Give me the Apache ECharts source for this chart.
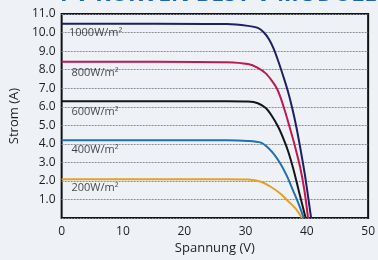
<!DOCTYPE html>
<html><head><meta charset="utf-8">
<script src="https://cdn.jsdelivr.net/npm/echarts@6/dist/echarts.min.js"></script>
<style>html,body{margin:0;padding:0;background:#eef2f6;}#c{width:378px;height:260px;}</style>
</head><body><div id="c"></div>
<script>
const seriesNames = ['1000W/m²','800W/m²','600W/m²','400W/m²','200W/m²'];
const v1000 = [0, 15, 27, 30.4, 32.0, 33.0, 33.8, 34.6, 35.4, 36.2, 36.9, 37.6, 38.3, 39.0, 39.7, 40.7];
const i1000 = [10.48, 10.48, 10.46, 10.36, 10.25, 10.0, 9.65, 9.12, 8.4, 7.6, 6.85, 5.95, 4.9, 3.65, 2.3, 0];
const v800 = [0, 15, 27, 30.4, 32.0, 33.3, 34.3, 35.0, 35.6, 36.4, 37.2, 38.0, 38.9, 39.6, 40.2];
const i800 = [8.43, 8.43, 8.4, 8.3, 8.1, 7.8, 7.4, 7.05, 6.6, 5.8, 4.9, 3.95, 2.75, 1.5, 0];
const v600 = [0, 15, 27, 30.4, 32.0, 33.3, 34.3, 35.4, 36.4, 37.0, 37.8, 38.7, 39.8];
const i600 = [6.3, 6.3, 6.3, 6.28, 6.19, 5.93, 5.5, 4.87, 4.1, 3.55, 2.65, 1.45, 0];
const v400 = [0, 15, 27, 30.4, 32.5, 33.5, 34.5, 35.6, 36.7, 37.8, 38.8, 39.5];
const i400 = [4.2, 4.2, 4.2, 4.16, 4.07, 3.85, 3.5, 2.98, 2.3, 1.45, 0.65, 0];
const v200 = [0, 15, 27, 30.4, 32.5, 34.1, 35.6, 37.0, 38.3, 39.2];
const i200 = [2.1, 2.1, 2.1, 2.08, 1.96, 1.69, 1.34, 0.9, 0.46, 0];
const labelV = [1.2, 1.6, 1.6, 1.6, 1.6];
const labelI = [10.0, 7.85, 5.7, 3.7, 1.62];
const colors = ['#1d2063','#c2174f','#151515','#1f70b2','#e3a127'];

const zip = (a,b)=>a.map((x,k)=>[x,b[k]]);
const curves = [zip(v1000,i1000),zip(v800,i800),zip(v600,i600),zip(v400,i400),zip(v200,i200)];
const chart = echarts.init(document.getElementById('c'));
const txt = '#1e1e1e';
const series = curves.map((d,k)=>({
  type:'line', name:seriesNames[k], data:d, showSymbol:false, smooth:0.3,
  lineStyle:{color:colors[k], width:2}, z:3
}));
series.push({
  type:'scatter', data:zip(labelV,labelI), symbolSize:0, silent:true,
  label:{show:true, position:'right', distance:0, color:'#151515', fontSize:11, fontFamily:'Open Sans',
    formatter:p=>seriesNames[p.dataIndex]}
});
chart.setOption({
  backgroundColor:'#eef2f6',
  animation:false,
  grid:{left:58,right:4,top:14,bottom:38,show:true,borderColor:'#111',borderWidth:2,backgroundColor:'transparent'},
  graphic:[{type:'text', left:60, top:-17, style:{text:'PV KURVEN BEST V MODULES (335W)', fill:'#1f63b8', font:'bold 23px "Open Sans"'}}],
  xAxis:{type:'value',min:0,max:50,interval:10,name:'Spannung (V)',nameLocation:'middle',nameGap:22,
    nameTextStyle:{color:txt,fontSize:13,fontFamily:'Open Sans'},
    axisLine:{show:false},axisTick:{show:false},splitLine:{show:false},
    axisLabel:{color:txt,fontSize:12,fontFamily:'Open Sans',margin:7}},
  yAxis:{type:'value',min:0,max:11,interval:1,name:'Strom (A)',nameLocation:'middle',nameGap:39,
    nameTextStyle:{color:txt,fontSize:13,fontFamily:'Open Sans'},
    axisLine:{show:false},axisTick:{show:false},
    splitLine:{show:true,lineStyle:{color:'#8a8f96',type:[2,1],width:1}},
    axisLabel:{color:txt,fontSize:12,fontFamily:'Open Sans',margin:6,formatter:v=>v===0?'':v.toFixed(1)}},
  series
});
</script></body></html>
